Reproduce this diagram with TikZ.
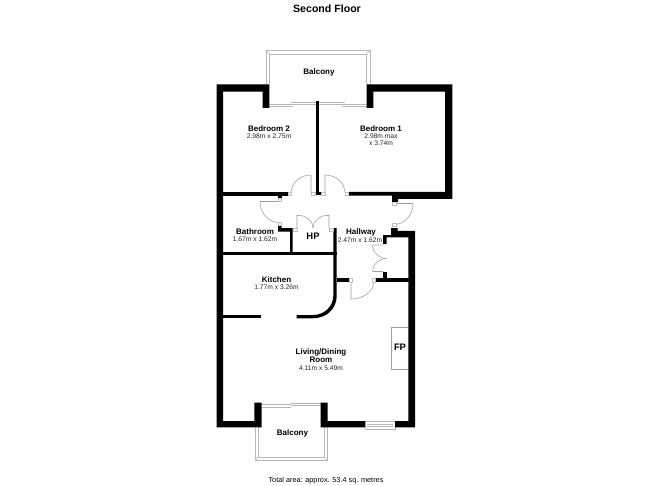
\documentclass[tikz,border=0pt]{standalone}
\usepackage{fontspec}
\setmainfont{Liberation Sans}
\usetikzlibrary{calc}
\tikzset{
  wall/.style={fill=black,draw=none},
  thin gray/.style={draw=black!38,line width=0.55pt},
  rail/.style={draw=black!28,line width=0.7pt},
  jamb/.style={draw=black!25,fill=white,line width=0.4pt},
  room/.style={font=\fontsize{8}{8}\selectfont\bfseries,inner sep=0pt,align=center},
  bigroom/.style={font=\fontsize{9.4}{9}\selectfont\bfseries,inner sep=0pt,align=center},
  dim/.style={font=\fontsize{6.7}{7.4}\selectfont,inner sep=0pt,align=center,text=black!85}
}
\newcommand{\qarc}[3]{(#1) .. controls ($(#1)!.55!(#2)$) and ($(#3)!.55!(#2)$) .. (#3)}
\newcommand{\wbox}[4]{\fill[wall] (#1,#2) rectangle (#3,#4);}
\newcommand{\jbox}[2]{\draw[jamb] (#1-1.7,#2-1.7) rectangle (#1+1.7,#2+1.7);}
\begin{document}
\begin{tikzpicture}[x=1pt,y=-1pt]
\useasboundingbox (0,0) rectangle (668,486);
\fill[white] (0,0) rectangle (668,486);
% top balcony
\draw[rail] (269.3,84) -- (269.3,54) -- (366.7,54) -- (366.7,84);
\draw[rail] (266,84) -- (266,50.5) -- (370,50.5) -- (370,84);
\draw[rail] (266,50.5) -- (269.3,54) (370,50.5) -- (366.7,54);
% sliding door top
\draw[rail] (269.3,104) -- (293,104) (269.3,106) -- (293,106);
\draw[rail] (291,102) -- (315.7,102) (291,104) -- (315.7,104);
\draw[rail] (319.3,102) -- (345,102) (319.3,104) -- (345,104);
\draw[rail] (342,104) -- (366.7,104) (342,106) -- (366.7,106);
% bottom balcony
\draw[rail] (258,427) -- (258,457.5) -- (324.5,457.5) -- (324.5,427);
\draw[rail] (255,427) -- (255,460.5) -- (327.5,460.5) -- (327.5,427);
\draw[rail] (255,460.5) -- (258,457.5) (327.5,460.5) -- (324.5,457.5);
% sliding door bottom
\draw[rail] (261.7,404.5) -- (291,404.5) (261.7,407) -- (291,407);
\draw[rail] (291,403.5) -- (320.7,403.5) (291,405.5) -- (320.7,405.5);
% window
\draw[rail] (365,421.5) rectangle (395,429);
\draw[rail] (367,424) -- (393,424) (367,426.5) -- (393,426.5);
% fireplace
\draw[thin gray] (408.3,327) -- (391.7,327) -- (391.7,369) -- (408.3,369);
% outer walls
\fill[wall] (216.5,84.3) -- (269.3,84.3) -- (269.3,108) -- (262.7,108) -- (262.7,91.7) -- (223,91.7)
  -- (223,421) -- (254.3,421) -- (254.3,402.7) -- (261.7,402.7) -- (261.7,427.3) -- (216.5,427.3) -- cycle;
\fill[wall] (366.7,84.3) -- (452.3,84.3) -- (452.3,199) -- (398,199) -- (398,202) -- (392,202) -- (392,195.7) -- (349,195.7) -- (349,192) -- (445,192) -- (445,91.7) -- (373.3,91.7) -- (373.3,108) -- (366.7,108) -- cycle;
% bottom right and right wall
\fill[wall] (320.7,402.7) -- (327.7,402.7) -- (327.7,421) -- (365,421) -- (365,427.3) -- (320.7,427.3) -- cycle;
\fill[wall] (395,421) -- (408.4,421) -- (408.4,237.3) -- (386.7,237.3) -- (386.7,244) -- (383.2,244) -- (383.2,235)
  -- (391,235) -- (391,228) -- (397.7,228) -- (397.7,230.8) -- (415,230.8) -- (415,427.3) -- (395,427.3) -- cycle;
% internal walls
\wbox{315.7}{101}{319.3}{195}
\wbox{313.5}{192}{321.7}{195.5}
\wbox{223}{192}{287.7}{195.7}
\wbox{278}{195.7}{282}{198}
\fill[wall] (278,225) -- (281.7,225) -- (281.7,228) -- (292.7,228) -- (292.7,252) -- (290,252) -- (290,231.7) -- (278,231.7) -- cycle;
\wbox{223}{251.7}{336.7}{255}
\wbox{223}{315}{261}{318.3}
\fill[wall] (333.3,228) -- (336.7,228) -- (336.7,296) .. controls (336.7,309) and (326,318.3) .. (313,318.3) -- (296.7,318.3) -- (296.7,315) -- (313,315) .. controls (324.5,315) and (333.3,306) .. (333.3,296) -- cycle;
\wbox{336.7}{278.3}{348.7}{281.7}
\wbox{375.7}{278.3}{408.6}{281.7}
\wbox{383.2}{271.7}{386.7}{278.5}
% doors
\draw[thin gray] (311,193) -- (311,175) \qarc{311,175}{291,175}{291,193};
\draw[thin gray] (325,193) -- (325,175) \qarc{325,175}{345,175}{345,193};
\draw[thin gray] (279,201.5) -- (260,201.5) \qarc{260,201.5}{260,222.5}{279,222.5};
\draw[thin gray] (394,203.5) -- (413,203.5) \qarc{413,203.5}{413,224.5}{394,224.5};
\draw[thin gray] (297,228) -- (297,215.5) -- (299,215.5) \qarc{299,215.5}{313,215.5}{313,228};
\draw[thin gray] (329,228) -- (329,215.5) -- (327,215.5) \qarc{327,215.5}{313,215.5}{313,228};
\draw[thin gray] (383.2,245) -- (372.5,245) \qarc{372.5,245}{372.5,258.5}{386.7,258.5};
\draw[thin gray] (383.2,271.5) -- (372.5,271.5) \qarc{372.5,271.5}{372.5,258.5}{386.7,258.5};
\draw[thin gray] (351,282) -- (351,299) \qarc{351,299}{374,299}{374,281.5};
% jambs
\jbox{279.5}{199.5}\jbox{279.5}{223.5}\jbox{313}{193.5}\jbox{323}{193.5}
\jbox{289.5}{193.5}\jbox{346.5}{193.5}\jbox{394}{203.5}\jbox{394}{224.5}
\jbox{295}{229.5}\jbox{331}{229.5}\jbox{350.5}{280}\jbox{373.8}{280}
% labels
\node[inner sep=0pt,font=\fontsize{10.6}{12}\selectfont\bfseries] (title) at (327,9) {Second Floor};
\node[room] (b1) at (319,72.5) {Balcony};
\node[room] (bed2) at (269,128.5) {Bedroom 2};
\node[dim] (bed2d) at (269,136) {2.98m x 2.75m};
\node[room] (bed1) at (381,128.5) {Bedroom 1};
\node[dim] (bed1d) at (381,139.5) {2.98m max\\x 3.74m};
\node[room] (bath) at (255,231.5) {Bathroom};
\node[dim] (bathd) at (255,239) {1.67m x 1.62m};
\node[bigroom] (hp) at (313,236.5) {HP};
\node[room] (hall) at (361,232.5) {Hallway};
\node[dim] (halld) at (360,240) {2.47m x 1.62m};
\node[room] (kit) at (276.5,280) {Kitchen};
\node[dim] (kitd) at (276.5,287.5) {1.77m x 3.26m};
\node[room,align=center] (liv) at (321,356) {Living/Dining\\Room};
\node[dim] (livd) at (321,368) {4.11m x 5.49m};
\node[bigroom] (fp) at (400,347) {FP};
\node[room] (b2) at (292.5,433) {Balcony};
\node[inner sep=0pt,font=\fontsize{7.3}{9}\selectfont] (tot) at (326,481) {Total area: approx. 53.4 sq. metres};
\end{tikzpicture}
\end{document}
